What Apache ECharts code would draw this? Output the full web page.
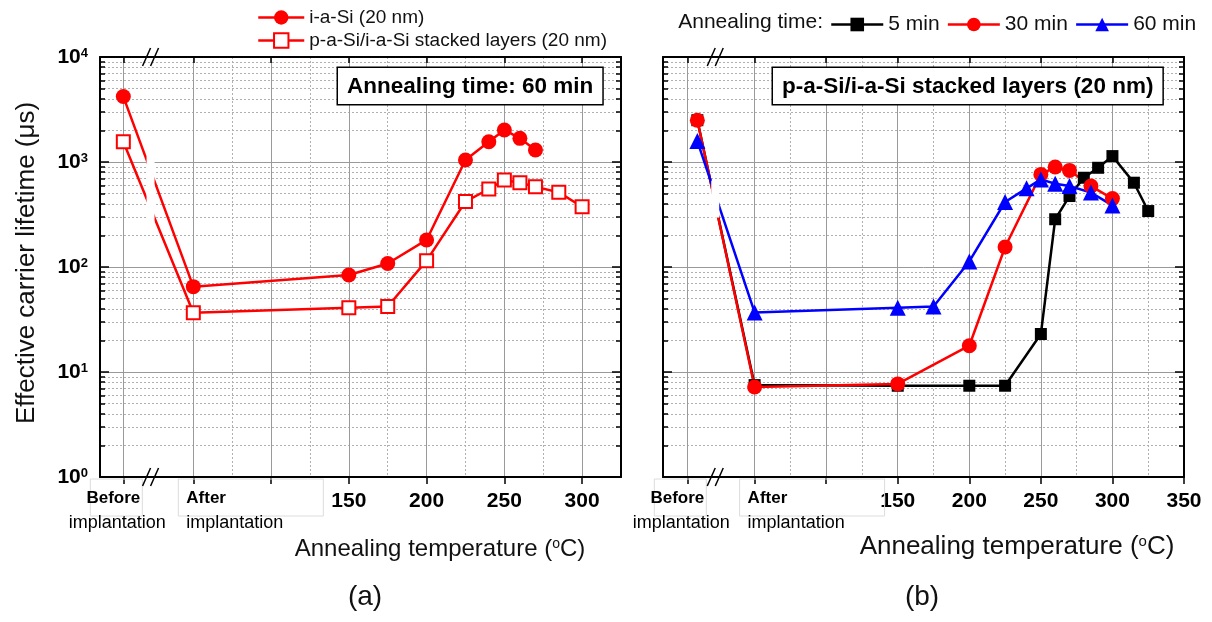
<!DOCTYPE html>
<html>
<head>
<meta charset="utf-8">
<script src="https://cdn.jsdelivr.net/npm/echarts@6/dist/echarts.min.js"></script>
<style>
  html, body { margin: 0; padding: 0; background: #fff; }
  #main { width: 1212px; height: 622px; }
</style>
</head>
<body>
<div id="main"></div>
<script>
// "Before" / "After implantation" sit at fixed spots on the temperature axis
// (a) 60 min anneal
var tempIaSi  = [5, 50, 150, 175, 200, 225, 240, 250, 260, 270]
var lifeIaSi  = [4200, 65, 84, 108, 181, 1045, 1560, 2020, 1680, 1300]
var tempStack = [5, 50, 150, 175, 200, 225, 240, 250, 260, 270, 285, 300]
var lifeStack = [1560, 36.7, 41, 42, 115, 420, 553, 674, 635, 582, 514, 375]

// (b) stacked layers, three anneal times
var temp5  = [10, 50, 150, 200, 225, 250, 260, 270, 280, 290, 300, 315, 325]
var life5  = [2500, 7.5, 7.4, 7.4, 7.4, 23, 285, 474, 708, 881, 1138, 635, 341]
var temp30 = [10, 50, 150, 200, 225, 250, 260, 270, 285, 300]
var life30 = [2500, 7.2, 7.7, 17.8, 155, 762, 895, 832, 590, 448]
var temp60 = [10, 50, 150, 175, 200, 225, 240, 250, 260, 270, 285, 300]
var life60 = [1582, 36.9, 41, 42, 113, 416, 561, 683, 621, 590, 511, 386]

// tick positions
var majorA = [5, 50, 100, 150, 200, 250, 300]
var minorA = [75, 125, 175, 225, 275]
var labelA = [150, 200, 250, 300]
var majorB = [3, 50, 100, 150, 200, 250, 300, 350]
var minorB = [75, 125, 175, 225, 275, 325]
var labelB = [150, 200, 250, 300, 350]
var breakAt = 22.5

var FONT = 'Liberation Sans, Arial, sans-serif'
var RED = '#ff0000', BLUE = '#0000ff', BLACK = '#000000'

var minorY = []
;[1, 10, 100, 1000].forEach(function (d) {
  for (var k = 2; k <= 9; k++) minorY.push(k * d)
})

function pairs (xs, ys) {
  return xs.map(function (x, i) { return [x, ys[i]] })
}

function xAxes (grid, min, max, major, minor, labels) {
  return [
    { gridIndex: grid, type: 'value', position: 'bottom', min: min, max: max,
      axisLine: { onZero: false, lineStyle: { color: '#000', width: 2 } },
      axisTick: { customValues: major, length: 7, lineStyle: { color: '#000', width: 1.5 } },
      axisLabel: { customValues: labels, margin: 14, color: '#000', fontSize: 21, fontWeight: 'bold', fontFamily: FONT },
      splitLine: { show: true, lineStyle: { color: '#9a9a9a', width: 1 } } },
    { gridIndex: grid, type: 'value', position: 'bottom', min: min, max: max,
      axisLine: { show: false, onZero: false },
      axisTick: { show: false, customValues: minor },
      axisLabel: { show: false },
      splitLine: { show: true, lineStyle: { color: '#b0b0b0', width: 1, type: [2, 2] } } },
    { gridIndex: grid, type: 'value', position: 'top', min: min, max: max,
      axisLine: { onZero: false, lineStyle: { color: '#000', width: 2 } },
      axisTick: { inside: true, customValues: major, length: 6, lineStyle: { color: '#000', width: 1.5 } },
      axisLabel: { show: false },
      splitLine: { show: false } }
  ]
}

function yAxes (grid, showLabels) {
  function base (pos) {
    return { gridIndex: grid, type: 'log', logBase: 10, min: 1, max: 10000, position: pos }
  }
  var tickStyle = { color: '#000', width: 1.5 }
  return [
    Object.assign(base('left'), {
      axisLine: { show: true, onZero: false, lineStyle: { color: '#000', width: 2 } },
      axisTick: { inside: true, length: 9, lineStyle: tickStyle },
      axisLabel: {
        show: showLabels, margin: 12,
        formatter: function (v) { return '{b|10}{s|' + Math.round(Math.log10(v)) + '}' },
        rich: {
          b: { fontSize: 21, fontWeight: 'bold', color: '#000', fontFamily: FONT },
          s: { fontSize: 13, fontWeight: 'bold', color: '#000', fontFamily: FONT, verticalAlign: 'top', lineHeight: 14 }
        }
      },
      splitLine: { show: true, lineStyle: { color: '#9a9a9a', width: 1 } } }),
    Object.assign(base('left'), {
      axisLine: { show: false, onZero: false },
      axisTick: { inside: true, length: 5, customValues: minorY, lineStyle: tickStyle },
      axisLabel: { show: false },
      splitLine: { show: true, lineStyle: { color: '#b0b0b0', width: 1, type: [2, 2] } } }),
    Object.assign(base('right'), {
      axisLine: { show: true, onZero: false, lineStyle: { color: '#000', width: 2 } },
      axisTick: { inside: true, length: 9, lineStyle: tickStyle },
      axisLabel: { show: false },
      splitLine: { show: false } }),
    Object.assign(base('right'), {
      axisLine: { show: false, onZero: false },
      axisTick: { inside: true, length: 5, customValues: minorY, lineStyle: tickStyle },
      axisLabel: { show: false },
      splitLine: { show: false } })
  ]
}

function lineSeries (name, xi, yi, xs, ys, color, symbol, size, hollow) {
  return {
    name: name, type: 'line', xAxisIndex: xi, yAxisIndex: yi,
    data: pairs(xs, ys),
    symbol: symbol, symbolSize: size, showAllSymbol: true,
    lineStyle: { color: color, width: 2.5 },
    itemStyle: hollow
      ? { color: '#fff', borderColor: color, borderWidth: 2 }
      : { color: color, borderWidth: 0 },
    emphasis: { disabled: true }
  }
}

var nameIa = 'i-a-Si (20 nm)'
var nameSt = 'p-a-Si/i-a-Si stacked layers (20 nm)'

var chart = echarts.init(document.getElementById('main'))

var option = {
  animation: false,
  backgroundColor: '#fff',
  grid: [
    { left: 100, top: 57, width: 521, height: 420, outerBoundsMode: 'none' },
    { left: 663, top: 57, width: 521, height: 420, outerBoundsMode: 'none' }
  ],
  xAxis: xAxes(0, -10, 325, majorA, minorA, labelA).concat(xAxes(1, -14, 350, majorB, minorB, labelB)),
  yAxis: yAxes(0, true).concat(yAxes(1, false)),
  legend: [
    { data: [nameIa, nameSt], orient: 'vertical', left: 252, top: 3,
      itemWidth: 46, itemHeight: 18, itemGap: 4,
      lineStyle: { width: 2.5 },
      textStyle: { fontSize: 19, color: '#111', fontFamily: FONT } },
    { data: ['5 min', '30 min', '60 min'], orient: 'horizontal', left: 825, top: 9,
      itemWidth: 52, itemHeight: 17, itemGap: 7,
      lineStyle: { width: 2.5 },
      textStyle: { fontSize: 21, color: '#111', fontFamily: FONT } }
  ],
  series: [
    lineSeries(nameIa, 0, 0, tempIaSi, lifeIaSi, RED, 'circle', 15, false),
    lineSeries(nameSt, 0, 0, tempStack, lifeStack, RED, 'rect', 13, true),
    lineSeries('5 min', 3, 4, temp5, life5, BLACK, 'rect', 12, false),
    lineSeries('30 min', 3, 4, temp30, life30, RED, 'circle', 15, false),
    lineSeries('60 min', 3, 4, temp60, life60, BLUE, 'triangle', 16, false)
  ]
}
chart.setOption(option)

// decorations that depend on where the axes landed
function toPx (xi, yi, x, y) {
  return chart.convertToPixel({ xAxisIndex: xi, yAxisIndex: yi }, [x, y])
}

var graphics = []
var txt = function (o) { return Object.assign({ type: 'text', z: 20 }, o) }

function panelDeco (xi, yi, seriesXY, before) {
  var top = toPx(xi, yi, breakAt, 10000)
  var bot = toPx(xi, yi, breakAt, 1)
  var bx = top[0]
  // gap in the lines that cross the axis break
  var ys = []
  seriesXY.forEach(function (s) {
    var p0 = toPx(xi, yi, s[0][0], s[1][0])
    var p1 = toPx(xi, yi, s[0][1], s[1][1])
    ys.push(p0[1] + (bx - p0[0]) / (p1[0] - p0[0]) * (p1[1] - p0[1]))
  })
  var y0 = Math.min.apply(null, ys) - 14
  var y1 = Math.max.apply(null, ys) + 14
  graphics.push({ type: 'rect', z: 10, shape: { x: bx - 4, y: y0, width: 8, height: y1 - y0 },
    style: { fill: '#fff' } })
  // "//" marks at top and bottom axes
  ;[top[1], bot[1]].forEach(function (ay) {
    ;[-4, 4].forEach(function (dx) {
      graphics.push({ type: 'line', z: 20,
        shape: { x1: bx + dx - 4, y1: ay + 9, x2: bx + dx + 4, y2: ay - 9 },
        style: { stroke: '#000', lineWidth: 1.5 } })
    })
  })
  // Before / After labels
  var tb = toPx(xi, yi, before, 1)[0]
  var ta = toPx(xi, yi, 50, 1)[0]
  var by = bot[1]
  graphics.push({ type: 'rect', z: 5, shape: { x: tb - 33, y: by + 2, width: 52, height: 37 },
    style: { fill: 'none', stroke: '#dcdcdc', lineWidth: 1 } })
  graphics.push({ type: 'rect', z: 5, shape: { x: ta - 15, y: by + 2, width: 145, height: 37 },
    style: { fill: 'none', stroke: '#dcdcdc', lineWidth: 1 } })
  graphics.push(txt({ x: tb - 10, y: by + 21, style: { text: 'Before', font: 'bold 17px ' + FONT,
    fill: '#000', align: 'center', verticalAlign: 'middle' } }))
  graphics.push(txt({ x: tb - 6, y: by + 46, style: { text: 'implantation', font: '18px ' + FONT,
    fill: '#000', align: 'center', verticalAlign: 'middle' } }))
  graphics.push(txt({ x: ta - 7, y: by + 21, style: { text: 'After', font: 'bold 17px ' + FONT,
    fill: '#000', align: 'left', verticalAlign: 'middle' } }))
  graphics.push(txt({ x: ta - 7, y: by + 46, style: { text: 'implantation', font: '18px ' + FONT,
    fill: '#000', align: 'left', verticalAlign: 'middle' } }))
}

panelDeco(0, 0, [[tempIaSi, lifeIaSi], [tempStack, lifeStack]], majorA[0])
panelDeco(3, 4, [[temp30, life30], [temp60, life60]], majorB[0])

function titleRich (size) {
  return {
    n: { fontSize: size, fontFamily: FONT, fill: '#111' },
    s: { fontSize: Math.round(size * 0.58), fontFamily: FONT, fill: '#111', verticalAlign: 'top', lineHeight: 14 }
  }
}
graphics.push(
  txt({ x: 27, y: 263, rotation: Math.PI / 2, style: { text: 'Effective carrier lifetime (\u03bcs)',
    font: '26px ' + FONT, fill: '#111', align: 'center', verticalAlign: 'middle' } }),
  txt({ x: 440, y: 549, style: { text: '{n|Annealing temperature (}{s|o}{n|C)}', rich: titleRich(24),
    align: 'center', verticalAlign: 'middle' } }),
  txt({ x: 1017, y: 547, style: { text: '{n|Annealing temperature (}{s|o}{n|C)}', rich: titleRich(26),
    align: 'center', verticalAlign: 'middle' } }),
  txt({ x: 365, y: 597, style: { text: '(a)', font: '28px ' + FONT, fill: '#111',
    align: 'center', verticalAlign: 'middle' } }),
  txt({ x: 922, y: 597, style: { text: '(b)', font: '28px ' + FONT, fill: '#111',
    align: 'center', verticalAlign: 'middle' } }),
  txt({ x: 823, y: 22, style: { text: 'Annealing time:', font: '21px ' + FONT, fill: '#111',
    align: 'right', verticalAlign: 'middle' } }),
  txt({ x: 338, y: 68, style: { text: 'Annealing time: 60 min', font: 'bold 22.5px ' + FONT, fill: '#000',
    backgroundColor: '#fff', borderColor: '#000', borderWidth: 1.5, padding: [7, 9, 6, 9] } }),
  txt({ x: 773, y: 68, style: { text: 'p-a-Si/i-a-Si stacked layers (20 nm)', font: 'bold 22.5px ' + FONT,
    fill: '#000', backgroundColor: '#fff', borderColor: '#000', borderWidth: 1.5, padding: [7, 9, 6, 9] } })
)

chart.setOption({ graphic: graphics })
</script>
</body>
</html>
